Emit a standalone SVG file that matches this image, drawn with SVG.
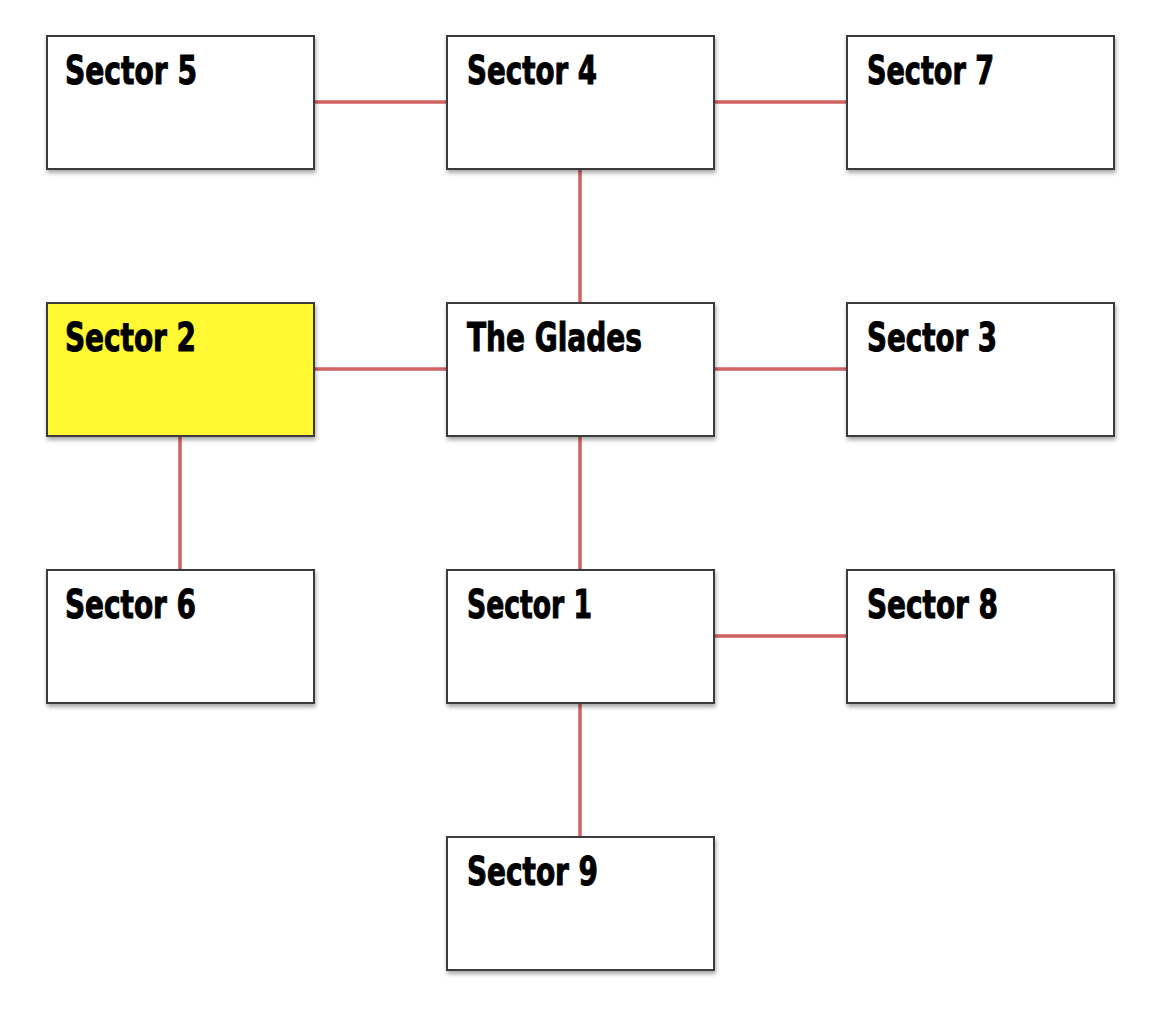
<svg xmlns="http://www.w3.org/2000/svg" width="1168" height="1010" viewBox="0 0 1168 1010">
<defs>
<filter id="sh" x="-10%" y="-10%" width="130%" height="130%">
<feGaussianBlur in="SourceAlpha" stdDeviation="2"/>
<feOffset dx="1" dy="3" result="b"/>
<feComponentTransfer><feFuncA type="linear" slope="0.35"/></feComponentTransfer>
<feMerge><feMergeNode/><feMergeNode in="SourceGraphic"/></feMerge>
</filter>
</defs>
<style>
.box{fill:#ffffff;stroke:#3a3a3a;stroke-width:2;filter:url(#sh)}
.hl{fill:#fff833}
.lbl{font-family:"Liberation Sans Narrow","DejaVu Sans Condensed","Liberation Sans",sans-serif;font-weight:bold;font-size:39px;fill:#000;stroke:#000;stroke-width:1}
.c{stroke:#d06262;stroke-width:3.5;fill:none}
</style>
<rect width="1168" height="1010" fill="#ffffff"/>
<g id="connectors">
<line class="c" x1="314" y1="102" x2="447" y2="102"/>
<line class="c" x1="714" y1="102" x2="847" y2="102"/>
<line class="c" x1="580" y1="169" x2="580" y2="303"/>
<line class="c" x1="314" y1="369" x2="447" y2="369"/>
<line class="c" x1="714" y1="369" x2="847" y2="369"/>
<line class="c" x1="580" y1="436" x2="580" y2="570"/>
<line class="c" x1="180" y1="436" x2="180" y2="570"/>
<line class="c" x1="714" y1="636" x2="847" y2="636"/>
<line class="c" x1="580" y1="703" x2="580" y2="837"/>
</g>
<g id="sector5"><rect class="box" x="47" y="36" width="267" height="133"/><text class="lbl" x="65" y="84" textLength="132" lengthAdjust="spacingAndGlyphs">Sector 5</text></g>
<g id="sector4"><rect class="box" x="447" y="36" width="267" height="133"/><text class="lbl" x="467" y="84" textLength="130" lengthAdjust="spacingAndGlyphs">Sector 4</text></g>
<g id="sector7"><rect class="box" x="847" y="36" width="267" height="133"/><text class="lbl" x="867" y="84" textLength="127" lengthAdjust="spacingAndGlyphs">Sector 7</text></g>
<g id="sector2"><rect class="box hl" x="47" y="303" width="267" height="133"/><text class="lbl" x="65" y="351" textLength="131" lengthAdjust="spacingAndGlyphs">Sector 2</text></g>
<g id="glades"><rect class="box" x="447" y="303" width="267" height="133"/><text class="lbl" x="467" y="351" textLength="175" lengthAdjust="spacingAndGlyphs">The Glades</text></g>
<g id="sector3"><rect class="box" x="847" y="303" width="267" height="133"/><text class="lbl" x="867" y="351" textLength="130" lengthAdjust="spacingAndGlyphs">Sector 3</text></g>
<g id="sector6"><rect class="box" x="47" y="570" width="267" height="133"/><text class="lbl" x="65" y="618" textLength="131" lengthAdjust="spacingAndGlyphs">Sector 6</text></g>
<g id="sector1"><rect class="box" x="447" y="570" width="267" height="133"/><text class="lbl" x="467" y="618" textLength="125" lengthAdjust="spacingAndGlyphs">Sector 1</text></g>
<g id="sector8"><rect class="box" x="847" y="570" width="267" height="133"/><text class="lbl" x="867" y="618" textLength="131" lengthAdjust="spacingAndGlyphs">Sector 8</text></g>
<g id="sector9"><rect class="box" x="447" y="837" width="267" height="133"/><text class="lbl" x="467" y="885" textLength="131" lengthAdjust="spacingAndGlyphs">Sector 9</text></g>
</svg>
